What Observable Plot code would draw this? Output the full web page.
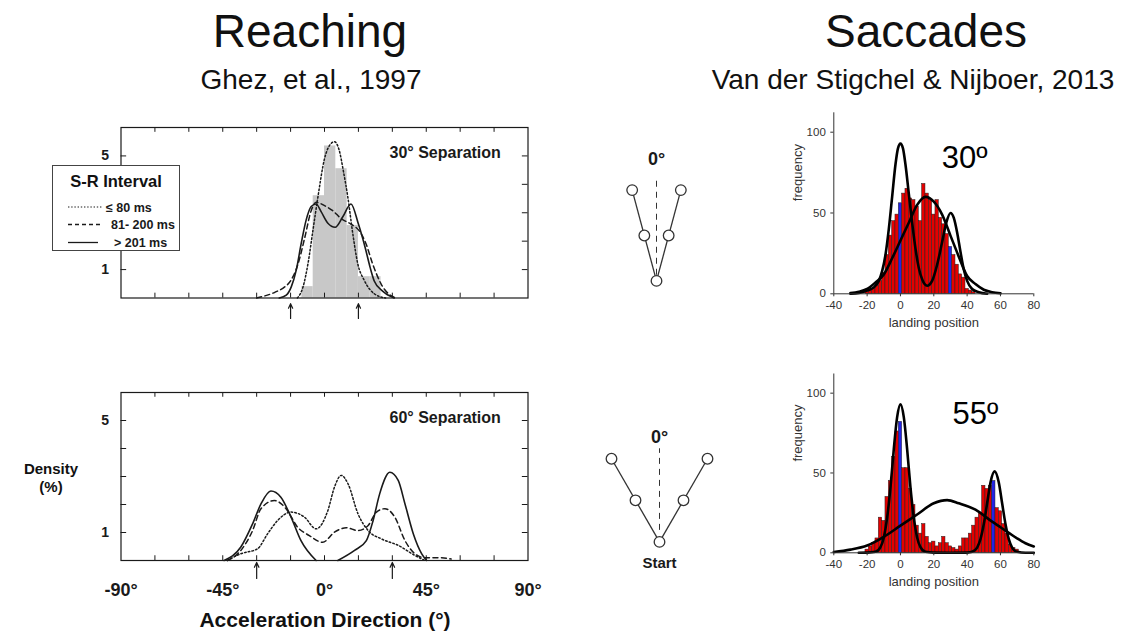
<!DOCTYPE html>
<html>
<head>
<meta charset="utf-8">
<script src="https://cdn.jsdelivr.net/npm/d3@7"></script>
<script src="https://cdn.jsdelivr.net/npm/@observablehq/plot@0.6"></script>
<style>
  html, body { margin: 0; padding: 0; background: #fff; }
  #fig { position: relative; width: 1137px; height: 634px; overflow: hidden; background: #fff;
         font-family: "Liberation Sans", Arial, Helvetica, sans-serif; color: #111; }
  #fig > * { position: absolute; }
  .txt { white-space: nowrap; line-height: 1; }
</style>
</head>
<body>
<div id="fig"></div>
<script>
// ---------- Reaching: acceleration-direction densities (Ghez et al., 1997) ----------
const dirTicks = [-75, -60, -45, -30, -15, 0, 15, 30, 45, 60, 75];
const dirLabels = [-90, -45, 0, 45, 90];
const densTicks = [1, 2, 3, 4, 5];
const densLabels = [1, 5];

// 30° separation
const sep30Arrows = [-15, 15];
const sep30BinStart = [-10, -5, 0, 5, 10, 15, 20];
const sep30BinDensity = [0.4, 3.6, 5.35, 4.55, 2.55, 0.75, 0.75];
const sep30ShortDir  = [-12, -9.5, -7.3, -5.1, -2.9, 0, 2.5, 4.4, 6.5, 8.5, 10.3, 12.5, 14.7, 17.6, 22, 27];
const sep30ShortDens = [0, 0.39, 1.21, 2.39, 3.56, 4.9, 5.4, 5.5, 5.2, 4.4, 3.56, 2.27, 1.21, 0.62, 0.15, 0];
const sep30MidDir  = [-30, -22, -17.6, -15, -11.7, -8.8, -5.9, -3.7, 0, 3.7, 7.3, 11.7, 15.4, 18.4, 21.3, 25, 29.4, 32];
const sep30MidDens = [0, 0.2, 0.39, 0.6, 1.2, 2.1, 3.07, 3.37, 3.25, 3.07, 2.8, 2.6, 2.36, 1.9, 1.2, 0.5, 0.08, 0];
const sep30LongDir  = [-20, -16.9, -14.7, -12.5, -10.3, -8.1, -5.9, -3.7, -1.5, 1.5, 4.7, 8.1, 11.7, 15, 18, 20.2, 22, 25.7, 30.8];
const sep30LongDens = [0, 0.1, 0.39, 0.98, 1.92, 2.75, 3.22, 3.31, 3.04, 2.63, 2.49, 2.86, 3.31, 2.6, 1.77, 1.07, 0.6, 0.24, 0];

// 60° separation
const sep60Arrows = [-30, 30];
const sep60ShortDir  = [-43, -37, -29.6, -25.2, -20.7, -14.8, -8.9, -3.7, 1.5, 4.4, 7.4, 10.4, 14.8, 19.3, 25.2, 32.6, 40, 44.4];
const sep60ShortDens = [0, 0.24, 0.42, 0.95, 1.43, 1.73, 1.55, 1.13, 1.79, 2.62, 3.04, 2.74, 1.67, 1.07, 0.77, 0.54, 0.18, 0];
const sep60MidDir  = [-43, -37, -31.8, -28.1, -22.2, -17, -11.9, -6.7, -0.8, 4.4, 9.6, 14.8, 19.3, 23, 26.7, 31.1, 35.6, 40, 44.4, 51.8, 56];
const sep60MidDens = [0, 0.36, 1.07, 1.85, 2.14, 1.85, 1.19, 0.89, 0.65, 1.01, 1.17, 1.07, 1.25, 1.73, 1.85, 1.55, 0.71, 0.24, 0.1, 0.1, 0.05];
const sep60LongLeftDir  = [-44.4, -37, -31.8, -28.1, -23.7, -19.3, -14.8, -10.4, -3.7];
const sep60LongLeftDens = [0, 0.48, 1.31, 2.02, 2.48, 2.26, 1.55, 0.71, 0];
const sep60LongRightDir  = [5.9, 13.3, 18.5, 21.5, 24.4, 28.9, 32.6, 35.6, 39.3, 43, 45.2];
const sep60LongRightDens = [0, 0.36, 0.71, 1.43, 2.38, 3.15, 2.86, 2.02, 0.95, 0.24, 0];

// ---------- Saccades: landing-position histograms (Van der Stigchel & Nijboer, 2013) ----------
const landTicks = [-40, -20, 0, 20, 40, 60, 80];
const freqTicks = [0, 50, 100];
const binWidth = 2;

const sac30BinCenter = [-20, -18, -16, -14, -12, -10, -8, -6, -4, -2, 0, 2, 4, 6, 8, 10, 12, 14, 16, 18, 20, 22, 24, 26, 28, 30, 32, 34, 36, 38, 40, 42, 44];
const sac30Count     = [1, 2, 3, 5, 8, 13, 24, 36, 45, 49, 56, 62, 65, 59, 58, 54, 45, 68, 62, 58, 49, 58, 47, 43, 37, 29, 24, 18, 12, 10, 3, 2, 1];
const sac30Targets = [0, 30];
const sac30TwoPeakPos   = [-30, -25, -20, -16, -13, -11, -9, -7, -5, -3, -1.5, 0, 1.5, 3, 5, 7, 9, 11, 13, 16, 19, 22, 25, 27.5, 30, 32, 34, 36, 38, 40, 43, 47, 52];
const sac30TwoPeakFreq  = [0, 0.5, 2, 4, 8, 14, 24, 40, 60, 80, 90, 93, 90, 80, 62, 44, 28, 16, 9, 5, 8, 18, 32, 44, 50, 47, 38, 26, 15, 8, 3, 1, 0];
const sac30OnePeakPos  = [-30, -25, -20, -15, -10, -5, 0, 5, 10, 15, 20, 25, 30, 35, 40, 45, 50, 55, 60];
const sac30OnePeakFreq = [0.4, 1.2, 3, 7, 12, 22, 33, 44, 55, 60, 57, 49, 36, 23, 11, 6, 2.5, 1, 0.3];

const sac55BinCenter = [-20, -18, -16, -14, -12, -10, -8, -6, -4, -2, 0, 2, 4, 6, 8, 10, 12, 14, 16, 18, 20, 22, 24, 26, 28, 30, 32, 34, 36, 38, 40, 42, 44, 46, 48, 50, 52, 54, 56, 58, 60, 62, 64, 66, 68, 70];
const sac55Count     = [2, 4, 6, 9, 22, 20, 35, 45, 60, 76, 82, 53, 53, 40, 30, 17, 12, 18, 10, 6, 7, 4, 6, 10, 6, 4, 3, 2, 4, 9, 9, 12, 17, 22, 25, 42, 40, 42, 45, 28, 26, 18, 12, 5, 3, 2];
const sac55Targets = [0, 56];
const sac55TwoPeakPos  = [-25, -20, -15, -12, -10, -8, -6, -4, -2, 0, 2, 4, 6, 8, 10, 12, 15, 20, 30, 40, 43, 46, 48, 50, 52, 54, 56.5, 59, 61, 63, 65, 67, 70, 75, 80];
const sac55TwoPeakFreq = [0, 0.1, 0.6, 3.5, 9.6, 22, 41, 65, 85, 93, 85, 65, 41, 22, 9.6, 3.5, 0.6, 0.1, 0, 0.1, 0.6, 3.3, 8.6, 18, 31, 44, 51, 44, 31, 18, 8.6, 3.3, 0.6, 0, 0];
const sac55OnePeakPos  = [-40, -30, -20, -10, 0, 10, 20, 28, 35, 45, 55, 60, 65, 70, 75, 80];
const sac55OnePeakFreq = [0.5, 2, 4.6, 10, 17, 24, 31, 33, 31, 27, 19.5, 16, 12.5, 9, 6, 4];

// ---------- Target layouts (angles from straight ahead) ----------
const layout30Angles = [-15, 15];
const layout60Angles = [-30, 30];
const layoutSteps = [0.5, 1];

// ---------- helpers ----------
const fig = document.getElementById("fig");
const ink = "#1a1a1a";
const zip = (xs, ys) => xs.map((x, i) => ({x, y: ys[i]}));

function put(node, left, top) {
  node.style.left = left + "px";
  node.style.top = top + "px";
  fig.appendChild(node);
  return node;
}
// text centred on cx, with its baseline at y
function textAt(str, cx, baseline, size, weight = "normal") {
  const d = document.createElement("div");
  d.className = "txt";
  d.textContent = str;
  d.style.fontSize = size + "px";
  d.style.fontWeight = weight;
  d.style.transform = "translateX(-50%)";
  return put(d, cx, baseline - 0.8465 * size);
}

const lineStyles = {
  short: {strokeDasharray: "1.6,2.2", strokeWidth: 1.5},
  mid:   {strokeDasharray: "5,3.5", strokeWidth: 1.5},
  long:  {strokeWidth: 1.6}
};

function reachFrameMarks(sepLabel, arrows, arrowY1, arrowY2) {
  return [
    Plot.ruleX(dirTicks, {x: d => d, y1: 0, y2: 0.17, stroke: ink}),
    Plot.ruleX(dirTicks, {x: d => d, y1: 6, y2: 5.83, stroke: ink}),
    Plot.ruleY(densTicks, {y: d => d, x1: -90, x2: -87.5, stroke: ink}),
    Plot.ruleY(densTicks, {y: d => d, x1: 90, x2: 87.5, stroke: ink}),
    Plot.frame({stroke: ink, strokeWidth: 1.2}),
    Plot.text(densLabels, {x: -90, y: d => d, text: d => String(d), dx: -12, textAnchor: "end",
      fontWeight: "bold", fontSize: 14, fill: ink}),
    Plot.text([sepLabel], {x: 78, y: 5.1, text: d => d, textAnchor: "end", fontWeight: "bold", fontSize: 16, fill: ink}),
    Plot.arrow(arrows, {x1: d => d, x2: d => d, y1: arrowY1, y2: arrowY2, stroke: ink,
      strokeWidth: 1.2, headLength: 7, headAngle: 50})
  ];
}

const plotStyle = {background: "transparent", overflow: "visible",
  fontFamily: "'Liberation Sans', Arial, Helvetica, sans-serif"};

// ---------- top-left: 30° separation ----------
put(Plot.plot({
  width: 560, height: 240,
  marginLeft: 120.5, marginRight: 32.5, marginTop: 27, marginBottom: 42.5,
  x: {domain: [-90, 90], axis: null},
  y: {domain: [0, 6], axis: null},
  style: plotStyle,
  marks: [
    Plot.rectY(sep30BinStart.map((s, i) => ({x1: s, x2: s + 5, y: sep30BinDensity[i]})),
      {x1: "x1", x2: "x2", y: "y", fill: "#c8c8c8"}),
    Plot.line(zip(sep30ShortDir, sep30ShortDens), {x: "x", y: "y", stroke: ink, curve: "monotone-x", ...lineStyles.short}),
    Plot.line(zip(sep30MidDir, sep30MidDens), {x: "x", y: "y", stroke: ink, curve: "monotone-x", ...lineStyles.mid}),
    Plot.line(zip(sep30LongDir, sep30LongDens), {x: "x", y: "y", stroke: ink, curve: "monotone-x", ...lineStyles.long}),
    ...reachFrameMarks("30° Separation", sep30Arrows, -0.72, -0.2)
  ]
}), 0, 100);

// ---------- bottom-left: 60° separation ----------
put(Plot.plot({
  width: 560, height: 240,
  marginLeft: 120.5, marginRight: 32.5, marginTop: 22, marginBottom: 50,
  x: {domain: [-90, 90], axis: null},
  y: {domain: [0, 6], axis: null},
  style: plotStyle,
  marks: [
    Plot.line(zip(sep60ShortDir, sep60ShortDens), {x: "x", y: "y", stroke: ink, curve: "monotone-x", ...lineStyles.short}),
    Plot.line(zip(sep60MidDir, sep60MidDens), {x: "x", y: "y", stroke: ink, curve: "monotone-x", ...lineStyles.mid}),
    Plot.line(zip(sep60LongLeftDir, sep60LongLeftDens), {x: "x", y: "y", stroke: ink, curve: "monotone-x", ...lineStyles.long}),
    Plot.line(zip(sep60LongRightDir, sep60LongRightDens), {x: "x", y: "y", stroke: ink, curve: "monotone-x", ...lineStyles.long}),
    ...reachFrameMarks("60° Separation", sep60Arrows, -0.64, -0.07),
    Plot.text(dirLabels, {x: d => d, y: 0, dy: 30, text: d => d + "°", fontWeight: "bold", fontSize: 18, fill: ink})
  ]
}), 0, 370);

// legend for the S-R intervals
const legend = document.createElement("div");
legend.style.cssText = "width:128px;height:86px;border:1.5px solid #444;background:#fff;box-sizing:border-box;";
legend.innerHTML = `
  <div class="txt" style="position:absolute;left:0;width:100%;top:7px;text-align:center;font-weight:bold;font-size:16.5px;">S-R Interval</div>
  <svg width="128" height="86" style="position:absolute;left:0;top:0;overflow:visible">
    <g stroke="${ink}" fill="none">
      <line x1="15" x2="50" y1="41" y2="41" stroke-width="1.2" stroke-dasharray="1.4,1.8"/>
      <line x1="15" x2="48" y1="58.5" y2="58.5" stroke-width="1.3" stroke-dasharray="4,3"/>
      <line x1="15" x2="45" y1="76.5" y2="76.5" stroke-width="1.3"/>
    </g>
    <g font-weight="bold" font-size="12.5" fill="${ink}" font-family="'Liberation Sans', Arial, sans-serif">
      <text x="53" y="45.5">≤ 80 ms</text>
      <text x="58" y="63">81- 200 ms</text>
      <text x="61" y="81">&gt; 201 ms</text>
    </g>
  </svg>`;
put(legend, 52, 165);

textAt("Density", 51, 474, 15, "bold");
textAt("(%)", 51, 492, 15, "bold");
textAt("Acceleration Direction (°)", 325, 627, 21, "bold");

// ---------- middle: target layouts ----------
function layoutPlot(angles, unitPx, w, h, cx, cy, extraMarks) {
  const pts = [{x: 0, y: 0}];
  const arms = [];
  for (const a of angles) {
    const r = a * Math.PI / 180;
    for (const s of layoutSteps) pts.push({x: s * Math.sin(r), y: s * Math.cos(r)});
    arms.push({x2: Math.sin(r), y2: Math.cos(r)});
  }
  const left = cx - w / 2, top = cy - (h * 0.72);
  const yTop = (cy - top) / unitPx, yBot = -(top + h - cy) / unitPx;
  return put(Plot.plot({
    width: w, height: h, margin: 0,
    x: {domain: [-w / 2 / unitPx, w / 2 / unitPx], axis: null},
    y: {domain: [yBot, yTop], axis: null},
    style: plotStyle,
    marks: [
      Plot.link(arms, {x1: 0, y1: 0, x2: "x2", y2: "y2", stroke: "#333", strokeWidth: 1.3}),
      ...extraMarks,
      Plot.dot(pts, {x: "x", y: "y", r: 5.3, fill: "#fff", stroke: "#333", strokeWidth: 1.3})
    ]
  }), left, top);
}

layoutPlot(layout30Angles, 94, 112, 170, 656, 280, [
  Plot.ruleX([0], {y1: 0.06, y2: 1.1, stroke: "#333", strokeWidth: 1, strokeDasharray: "6,5"}),
  Plot.text(["0°"], {x: 0, y: 1.29, text: d => d, fontWeight: "bold", fontSize: 18, fill: ink})
]);
layoutPlot(layout60Angles, 96, 124, 170, 659, 541, [
  Plot.ruleX([0], {y1: 0.12, y2: 0.97, stroke: "#333", strokeWidth: 1, strokeDasharray: "6,5"}),
  Plot.text(["0°"], {x: 0, y: 1.09, text: d => d, fontWeight: "bold", fontSize: 18, fill: ink}),
  Plot.text(["Start"], {x: 0, y: -0.22, text: d => d, fontWeight: "bold", fontSize: 15, fill: ink})
]);

// ---------- right: saccade landing histograms ----------
function histPlot(centers, counts, targets, twoPos, twoFreq, onePos, oneFreq, tag, tagX, tagY, top, marginTop, marginBottom) {
  const bins = centers.map((c, i) => ({x1: c - binWidth / 2, x2: c + binWidth / 2, y: counts[i], target: targets.includes(c)}));
  return put(Plot.plot({
    width: 270, height: 240,
    marginLeft: 63.3, marginRight: 6.7, marginTop, marginBottom,
    x: {domain: [-40, 80]},
    y: {domain: [0, 112]},
    style: {...plotStyle, color: "#333", fontSize: "11.5px"},
    marks: [
      Plot.rectY(bins, {x1: "x1", x2: "x2", y: "y", fill: d => d.target ? "#2323e6" : "#e40000",
        stroke: "#222", strokeWidth: 0.5}),
      Plot.line(zip(onePos, oneFreq), {x: "x", y: "y", stroke: "#000", strokeWidth: 2.6, curve: "monotone-x"}),
      Plot.line(zip(twoPos, twoFreq), {x: "x", y: "y", stroke: "#000", strokeWidth: 2.6, curve: "monotone-x"}),
      Plot.ruleX([-40], {y1: 0, y2: 112, stroke: "#333"}),
      Plot.ruleY([0], {x1: -40, x2: 80, stroke: "#333"}),
      Plot.axisX(landTicks, {tickSize: 3, tickPadding: 4, tickFormat: d => String(d), label: null}),
      Plot.axisY(freqTicks, {tickSize: 3, tickPadding: 5, tickFormat: d => String(d), label: null}),
      Plot.text(["landing position"], {x: 20, y: 0, dy: 29, text: d => d, fontSize: 13, fill: "#333"}),
      Plot.text(["frequency"], {x: -40, y: 75, dx: -36, rotate: -90, text: d => d, fontSize: 13, fill: "#333"}),
      Plot.text([tag], {x: tagX, y: tagY, text: d => d, fontSize: 31, fill: "#000"})
    ]
  }), 770, top);
}

histPlot(sac30BinCenter, sac30Count, sac30Targets, sac30TwoPeakPos, sac30TwoPeakFreq,
  sac30OnePeakPos, sac30OnePeakFreq, "30º", 38.5, 84, 100, 12.3, 46.7);
histPlot(sac55BinCenter, sac55Count, sac55Targets, sac55TwoPeakPos, sac55TwoPeakFreq,
  sac55OnePeakPos, sac55OnePeakFreq, "55º", 45, 87, 360, 13.5, 47.7);

// ---------- titles ----------
textAt("Reaching", 310, 47, 46);
textAt("Ghez, et al., 1997", 311, 90, 28);
textAt("Saccades", 926, 47, 46);
textAt("Van der Stigchel & Nijboer, 2013", 913, 90, 28);
</script>
</body>
</html>
